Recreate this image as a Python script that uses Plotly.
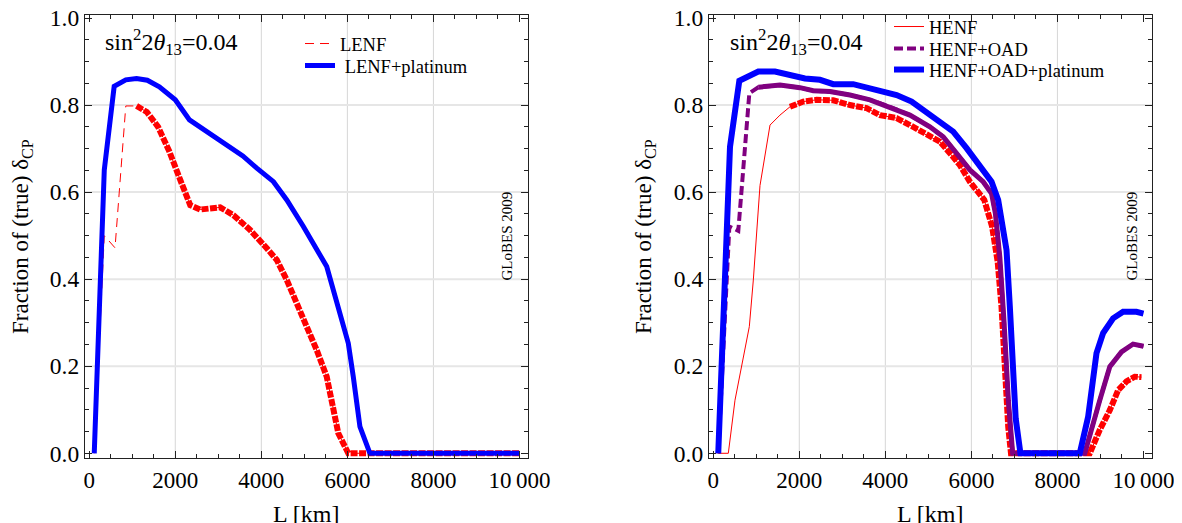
import plotly.graph_objects as go

W, H = 1182, 523
OFF = 8  # the page places the figure 8 px right and down of the window corner

# ---------------- data ----------------
# Left panel: LENF
L_LENF = [117, 350, 600, 850, 1100, 1340, 1600, 1860, 2116, 2348, 2580, 3044, 3353,
          3740, 4127, 4360, 4592, 4824, 5056, 5288, 5520, 5673, 5789, 6021, 10000]
V_LENF = [0.0, 0.50, 0.472, 0.798, 0.798, 0.784, 0.750, 0.694, 0.628, 0.570, 0.560,
          0.565, 0.547, 0.513, 0.471, 0.444, 0.398, 0.345, 0.291, 0.237, 0.176, 0.099,
          0.046, 0.0, 0.0]
LENF_THICK_FROM = 1100  # L [km] from which the curve is drawn thick

L_LENF_PT = [117, 350, 580, 850, 1100, 1350, 1630, 2000, 2330, 2900, 3570, 3895,
             4282, 4592, 4977, 5520, 5752, 6021, 6137, 6292, 6524, 10000]
V_LENF_PT = [0.0, 0.651, 0.843, 0.858, 0.861, 0.857, 0.842, 0.812, 0.766, 0.727,
             0.683, 0.655, 0.624, 0.582, 0.521, 0.429, 0.352, 0.253, 0.176, 0.061,
             0.0, 0.0]

# Right panel: HENF
L_HENF = [117, 351, 506, 661, 839, 932, 1087, 1320, 1552, 1784, 2093, 2403, 2790,
          3178, 3564, 3874, 4262, 4571, 4959, 5268, 5540, 5733, 5965, 6197, 6300,
          6481, 6611, 6700, 6780, 6856, 6920, 8752, 8985, 9217, 9411, 9605, 9798, 9953]
V_HENF = [0.0, 0.0, 0.122, 0.199, 0.291, 0.398, 0.615, 0.754, 0.777, 0.796, 0.808,
          0.812, 0.811, 0.800, 0.793, 0.777, 0.770, 0.754, 0.731, 0.716, 0.685, 0.662,
          0.624, 0.597, 0.582, 0.521, 0.440, 0.337, 0.190, 0.061, 0.0, 0.0, 0.054,
          0.099, 0.145, 0.165, 0.176, 0.175]
HENF_THICK_FROM = 1784

L_OAD = [117, 375, 583, 839, 1048, 1552, 2016, 2326, 2713, 3178, 3642, 4107, 4571,
         5036, 5346, 5656, 5965, 6274, 6469, 6560, 6662, 6760, 6860, 6960, 8636,
         8985, 9217, 9489, 9759, 10000]
V_OAD = [0.0, 0.521, 0.511, 0.827, 0.841, 0.846, 0.840, 0.833, 0.831, 0.823, 0.812,
         0.796, 0.777, 0.750, 0.727, 0.689, 0.651, 0.624, 0.597, 0.550, 0.450, 0.300,
         0.120, 0.0, 0.0, 0.122, 0.199, 0.233, 0.251, 0.246]
OAD_SOLID_FROM = 1048

L_OAD_PT = [117, 390, 607, 1048, 1436, 1784, 2132, 2481, 2790, 3254, 3564, 3874,
            4262, 4611, 4881, 5191, 5578, 5888, 6197, 6469, 6623, 6720, 6817, 6894,
            6960, 7030, 7140, 8520, 8714, 8908, 9062, 9294, 9526, 9836, 10000]
V_OAD_PT = [0.0, 0.704, 0.856, 0.877, 0.877, 0.869, 0.861, 0.858, 0.848, 0.848,
            0.840, 0.834, 0.823, 0.808, 0.789, 0.770, 0.739, 0.701, 0.662, 0.624,
            0.582, 0.520, 0.467, 0.337, 0.200, 0.080, 0.0, 0.0, 0.084, 0.230, 0.276,
            0.310, 0.325, 0.325, 0.321]

X_TICKS = [0, 2000, 4000, 6000, 8000, 10000]
X_TICK_TEXT = ["0", "2000", "4000", "6000", "8000", "10\u2009000"]
Y_TICKS = [0.0, 0.2, 0.4, 0.6, 0.8, 1.0]
Y_TICK_TEXT = ["0.0", "0.2", "0.4", "0.6", "0.8", "1.0"]
X_GRID = [2000, 4000, 6000, 8000]
Y_GRID = [0.2, 0.4, 0.6, 0.8]
X_RANGE = [-98, 10198]
Y_RANGE = [-0.0115, 1.0076]


def part(L, V, start):
    xs = [l for l in L if l >= start]
    ys = [v for l, v in zip(L, V) if l >= start]
    return xs, ys


def px(x):
    return (x - OFF) / W


def py(y):
    return (H - (y - OFF)) / H


RED = "#ff0000"
BLUE = "#0000ff"
PURPLE = "#800080"
FONT = "Liberation Serif"

fig = go.Figure()

# ---- left panel ----
fig.add_trace(go.Scatter(x=L_LENF, y=V_LENF, mode="lines", name="LENF",
                         line=dict(color=RED, width=1, dash="9px,6px"),
                         xaxis="x", yaxis="y", legend="legend"))
xs, ys = part(L_LENF, V_LENF, LENF_THICK_FROM)
fig.add_trace(go.Scatter(x=xs, y=ys, mode="lines", showlegend=False,
                         line=dict(color=RED, width=6, dash="7px,1.5px"),
                         xaxis="x", yaxis="y"))
fig.add_trace(go.Scatter(x=L_LENF_PT, y=V_LENF_PT, mode="lines",
                         name="\u00a0LENF+platinum",
                         line=dict(color=BLUE, width=5),
                         xaxis="x", yaxis="y", legend="legend2"))

# ---- right panel ----
fig.add_trace(go.Scatter(x=L_HENF, y=V_HENF, mode="lines", name="HENF",
                         line=dict(color=RED, width=1),
                         xaxis="x2", yaxis="y2", legend="legend3"))
xs, ys = part(L_HENF, V_HENF, HENF_THICK_FROM)
fig.add_trace(go.Scatter(x=xs, y=ys, mode="lines", showlegend=False,
                         line=dict(color=RED, width=6, dash="7px,1.5px"),
                         xaxis="x2", yaxis="y2"))
fig.add_trace(go.Scatter(x=L_OAD, y=V_OAD, mode="lines", name="HENF+OAD",
                         line=dict(color=PURPLE, width=4, dash="9px,4px"),
                         xaxis="x2", yaxis="y2", legend="legend4"))
xs, ys = part(L_OAD, V_OAD, OAD_SOLID_FROM)
fig.add_trace(go.Scatter(x=xs, y=ys, mode="lines", showlegend=False,
                         line=dict(color=PURPLE, width=5),
                         xaxis="x2", yaxis="y2"))
fig.add_trace(go.Scatter(x=L_OAD_PT, y=V_OAD_PT, mode="lines",
                         name="HENF+OAD+platinum",
                         line=dict(color=BLUE, width=6),
                         xaxis="x2", yaxis="y2", legend="legend5"))

# domains (pixel positions as seen in the window)
LEFT_DOM = [px(85), px(528)]
RIGHT_DOM = [px(709), px(1152)]
Y_DOM = [py(458.3), py(14.7)]


def xax(dom, anchor):
    return dict(domain=dom, anchor=anchor, range=X_RANGE, tickmode="array",
                tickvals=X_TICKS, ticktext=X_TICK_TEXT, ticks="inside", ticklen=7,
                tickwidth=1, tickcolor="#222", showline=True, linecolor="#222",
                linewidth=1.2, mirror="allticks", showgrid=False, zeroline=False,
                automargin=False, ticklabeloverflow="allow",
                tickfont=dict(family=FONT, size=23, color="black"),
                ticklabelstandoff=1,
                minor=dict(ticks="inside", dtick=500, tick0=0, ticklen=4,
                           tickcolor="#222", showgrid=False))


def yax(dom, anchor):
    return dict(domain=dom, anchor=anchor, range=Y_RANGE, tickmode="array",
                tickvals=Y_TICKS, ticktext=Y_TICK_TEXT, ticks="inside", ticklen=7,
                tickwidth=1, tickcolor="#222", showline=True, linecolor="#222",
                linewidth=1.2, mirror="allticks", showgrid=False, zeroline=False,
                automargin=False, ticklabeloverflow="allow",
                tickfont=dict(family=FONT, size=23.5, color="black"),
                ticklabelstandoff=0,
                minor=dict(ticks="inside", dtick=0.05, tick0=0, ticklen=4,
                           tickcolor="#222", showgrid=False))


shapes = []
for xr, yr in (("x", "y"), ("x2", "y2")):
    for g in X_GRID:
        shapes.append(dict(type="line", xref=xr, yref=yr, x0=g, x1=g,
                           y0=Y_RANGE[0], y1=Y_RANGE[1], layer="below",
                           line=dict(color="#d6d6d6", width=1)))
    for g in Y_GRID:
        shapes.append(dict(type="line", xref=xr, yref=yr, x0=X_RANGE[0], x1=X_RANGE[1],
                           y0=g, y1=g, layer="below",
                           line=dict(color="#e6e6e6", width=2)))

ann = []
theta = "sin<sup>2</sup>2<i>\u03b8</i><sub>13</sub>=0.04"
ytitle = "Fraction of (true) \u03b4<sub>CP</sub>"
for cx, tx, gx, sx in ((21.5, 306, 506, 103), (644.5, 930, 1131, 728)):
    ann.append(dict(text=ytitle, x=px(cx), y=py(236.5), xref="paper", yref="paper",
                    textangle=-90, showarrow=False, xanchor="center", yanchor="middle",
                    font=dict(family=FONT, size=23, color="black")))
    ann.append(dict(text="L [km]", x=px(tx), y=py(514), xref="paper", yref="paper",
                    showarrow=False, xanchor="center", yanchor="middle",
                    font=dict(family=FONT, size=24, color="black")))
    ann.append(dict(text="GLoBES 2009", x=px(gx), y=py(236.5), xref="paper",
                    yref="paper", textangle=-90, showarrow=False, xanchor="center",
                    yanchor="middle", font=dict(family=FONT, size=15, color="black")))
    ann.append(dict(text=theta, x=px(sx), y=py(42), xref="paper", yref="paper",
                    showarrow=False, xanchor="left", yanchor="middle",
                    font=dict(family=FONT, size=24, color="black")))


def leg(xp, yp):
    return dict(x=px(xp), y=py(yp), xanchor="left", yanchor="middle",
                bgcolor="rgba(0,0,0,0)", borderwidth=0,
                font=dict(family=FONT, size=18.5, color="black"))


fig.update_layout(
    width=W, height=H, margin=dict(l=0, r=0, t=0, b=0, pad=0, autoexpand=False),
    paper_bgcolor="white", plot_bgcolor="white",
    xaxis=xax(LEFT_DOM, "y"), yaxis=yax(Y_DOM, "x"),
    xaxis2=xax(RIGHT_DOM, "y2"), yaxis2=yax(Y_DOM, "x2"),
    shapes=shapes, annotations=ann,
    legend=leg(300, 44), legend2=leg(300, 66),
    legend3=leg(889, 27), legend4=leg(889, 49), legend5=leg(889, 70),
)

fig.write_html("out.html")
